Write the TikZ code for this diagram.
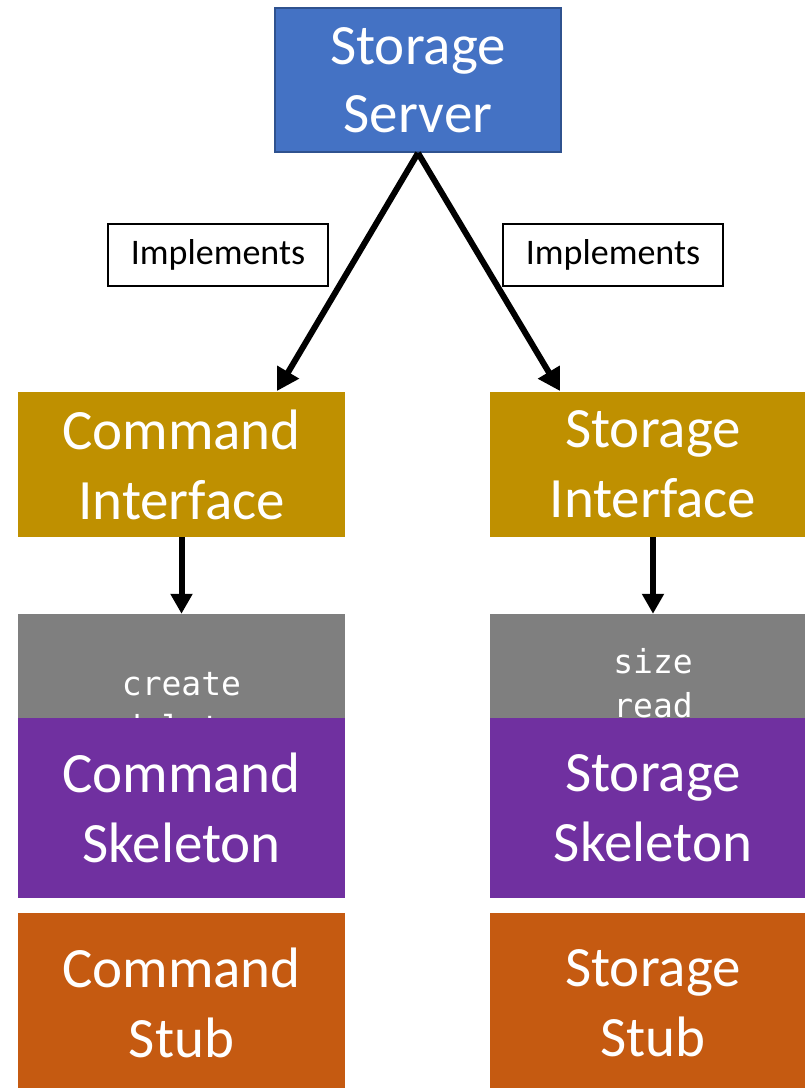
\documentclass[tikz,border=0pt]{standalone}
\usepackage{fontspec}
\setmainfont{Carlito}
\newfontfamily\codefont{DejaVu Sans Mono}
\usetikzlibrary{arrows.meta}

\definecolor{serverblue}{HTML}{4472C4}
\definecolor{serveredge}{HTML}{2F528F}
\definecolor{ifacegold}{HTML}{BF9000}
\definecolor{listgray}{HTML}{7F7F7F}
\definecolor{skelpurple}{HTML}{7030A0}
\definecolor{stuborange}{HTML}{C55A11}

\tikzset{
	block/.style={inner sep=0pt, minimum width=327pt, minimum height=145pt,
		text=white, align=center, font=\fontsize{57}{70}\selectfont},
	tag/.style={draw=black, line width=1.6pt, fill=white, inner sep=0pt,
		minimum width=220pt, minimum height=62pt, font=\fontsize{36}{40}\selectfont},
	ops/.style={text=white, align=center, font=\codefont\fontsize{33}{44}\selectfont},
	implarrow/.style={line width=6pt, -{Triangle[length=22pt,width=24pt]}},
	downarrow/.style={line width=6pt, -{Triangle[length=20pt,width=21pt]}}
}

\begin{document}
\begin{tikzpicture}[x=1pt,y=-1pt]
			%%%%% START %%%%%
			\useasboundingbox (0,0) rectangle (805,1088);
			\clip (0,0) rectangle (805,1088);
			
			\node[block, fill=serverblue, draw=serveredge, line width=2pt, minimum width=286pt, minimum height=144pt] (server) at (418,80) {\raisebox{-2pt}{Storage}\\Server};
			
			\node[tag] (leftimpl) at (218,255) {\raisebox{-3pt}{Implements}};
			\node[tag] (rightimpl) at (613,255) {\raisebox{-3pt}{Implements}};
			
			\node[block, fill=ifacegold] (cmdif) at (181.5,464.5) {Command\\Interface};
			\node[block, fill=ifacegold] (storif) at (653,464.5) {Storage\\Interface};
			
			\node[block, fill=listgray, minimum height=184pt] (cmdlist) at (181.5,706) {};
			\node[block, fill=listgray, minimum height=184pt] (storlist) at (653,706) {};
			\node[ops] (cmdops) at (181.5,706) {create\\delete};
			\node[ops] (storops) at (653,683) {size\\read};
			
			\node[block, fill=skelpurple, minimum height=180pt] (cmdskel) at (181.5,808) {Command\\Skeleton};
			\node[block, fill=skelpurple, minimum height=180pt] (storskel) at (653,808) {Storage\\Skeleton};
			
			\node[block, fill=stuborange, minimum height=180pt] (cmdstub) at (181.5,1003) {Command\\Stub};
			\node[block, fill=stuborange, minimum height=180pt] (storstub) at (653,1003) {Storage\\Stub};
			
			\coordinate (cmdtip) at (277,391);
			\coordinate (stortip) at (560,391);
			\draw[implarrow] (server.south) -- (cmdtip);
			\draw[implarrow] (server.south) -- (stortip);
			
			\draw[downarrow] (cmdif.south) -- (cmdlist.north);
			\draw[downarrow] (storif.south) -- (storlist.north);
			%%%%% END %%%%%
\end{tikzpicture}
\end{document}
